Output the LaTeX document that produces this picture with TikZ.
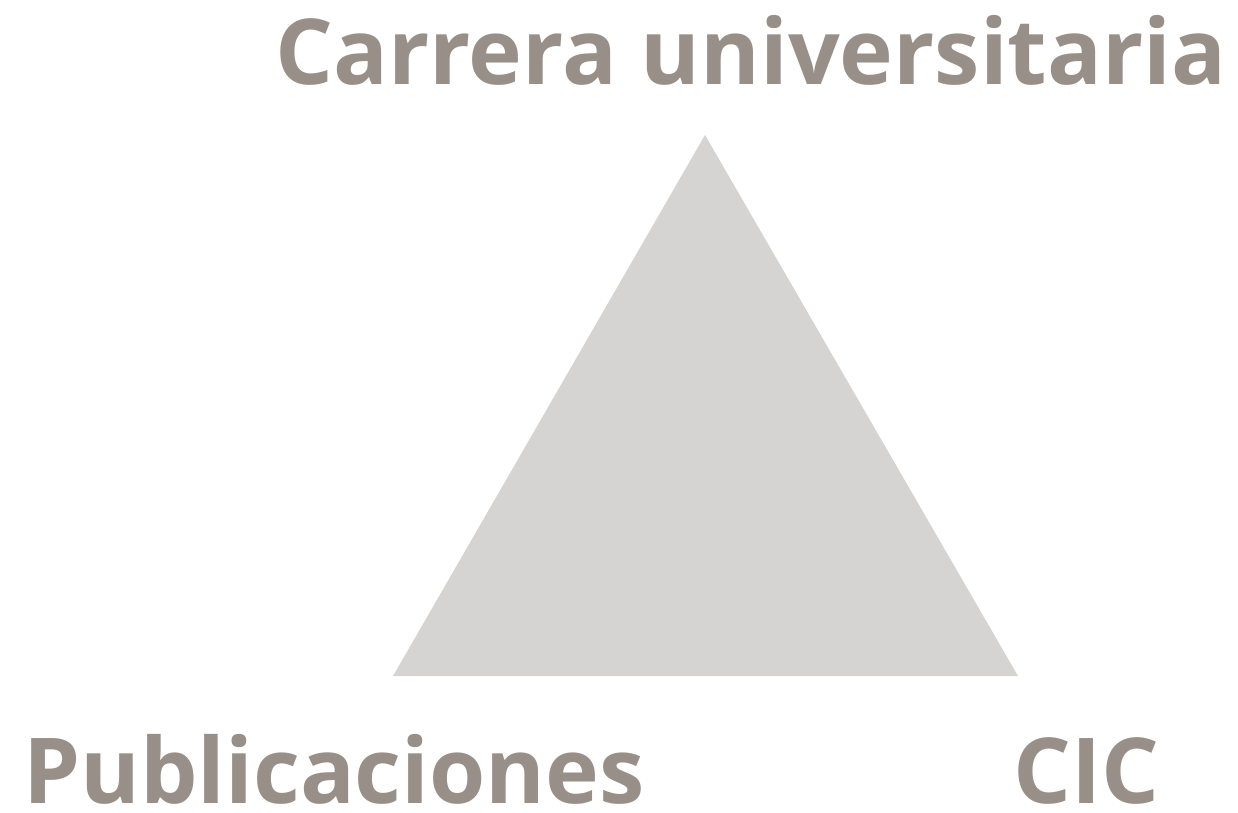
\documentclass[tikz,border=0pt]{standalone}
\usepackage{fontspec}
\setmainfont{Open Sans}
\definecolor{labelGray}{HTML}{989088}
\definecolor{triangleGray}{HTML}{D5D4D2}
\begin{document}
\begin{tikzpicture}
[x=1pt,y=1pt,%
  labelDecorate/.style={inner sep=0pt,anchor=base west,text=labelGray,font=\fontsize{91}{96}\selectfont\bfseries},%
  triangleDecorate/.style={fill=triangleGray}]
\useasboundingbox (0,0) rectangle (1238,812);
%% corners of the triangle
\coordinate (apex) at (705,677);
\coordinate (left) at (393,136);
\coordinate (right) at (1018,136);
\fill[triangleDecorate] (apex) -- (left) -- (right) -- cycle;
%% labels
\foreach \nodename/\nodelabel/\x/\y in {
  carrera/Carrera universitaria/275/727,
  publicaciones/Publicaciones/23/9,
  cic/CIC/1013/9}
{
  \node (\nodename) at (\x,\y) [labelDecorate] {\nodelabel};
}
\end{tikzpicture}
\end{document}
